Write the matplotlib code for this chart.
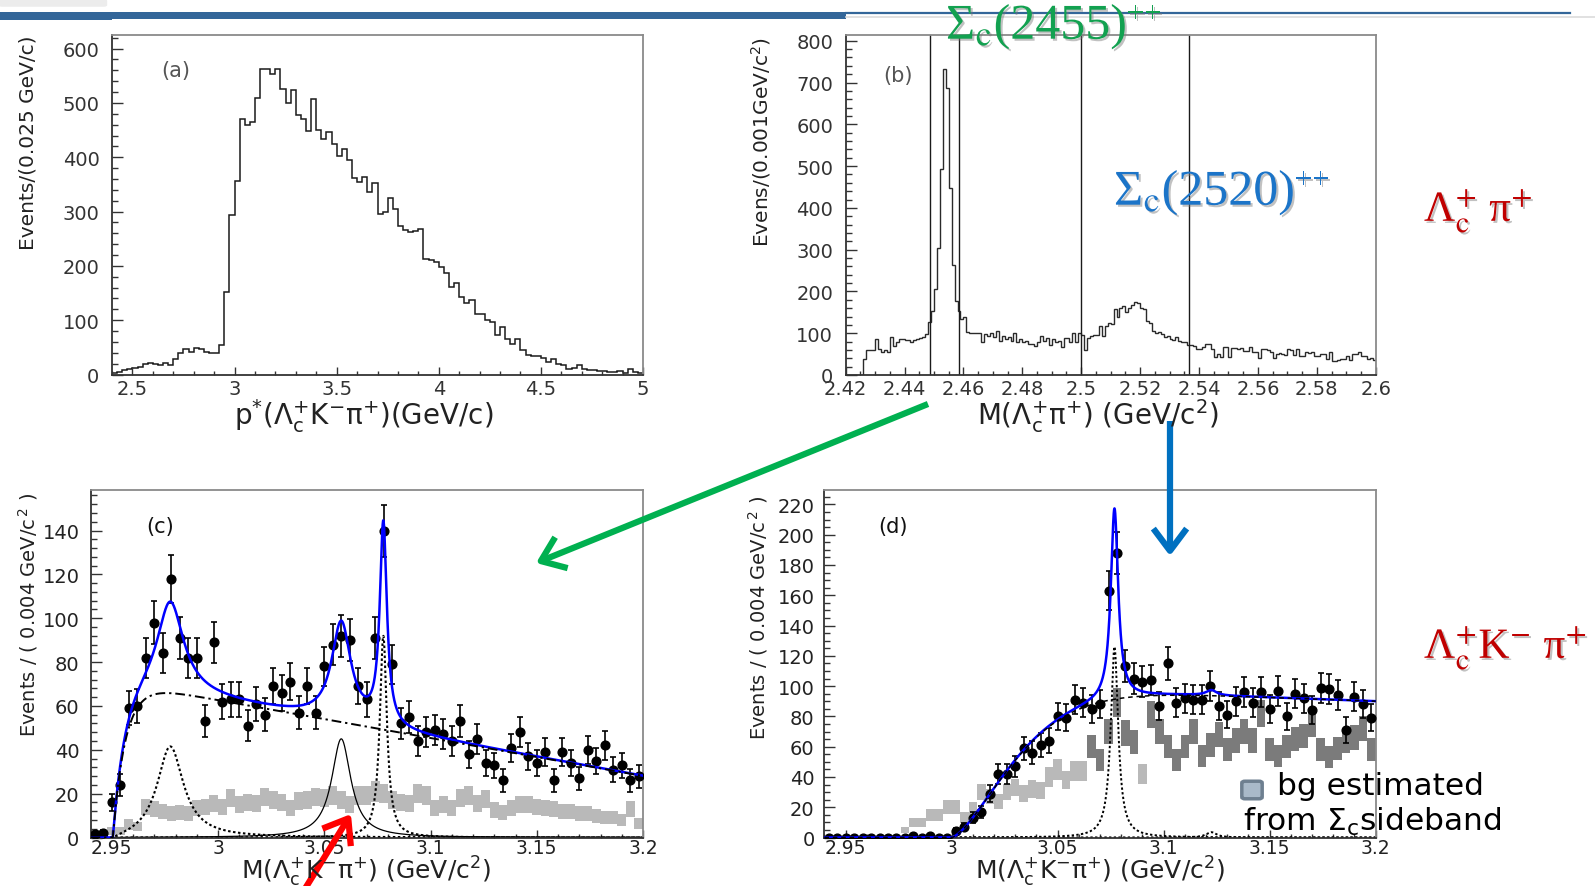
import numpy as np
import matplotlib
matplotlib.use("Agg")
import matplotlib.pyplot as plt
from matplotlib.patches import FancyArrowPatch, Rectangle, FancyBboxPatch, ArrowStyle
from matplotlib.lines import Line2D
from matplotlib.ticker import MultipleLocator, FuncFormatter
import matplotlib.patheffects as pe

# ---------------------------------------------------------------- data
# (a) p* spectrum of Lambda_c+ K- pi+, 0.025 GeV/c bins starting at 2.4
a_lo, a_width = 2.4, 0.025
a_counts = [2, 5, 8, 10, 12, 14, 20, 22, 20, 17,
            22, 17, 28, 40, 47, 42, 49, 47, 41, 40,
            40, 55, 152, 293, 357, 471, 460, 465, 510, 563,
            563, 553, 563, 525, 500, 523, 478, 470, 448, 507,
            451, 434, 446, 424, 403, 415, 395, 362, 355, 363,
            336, 352, 296, 299, 325, 304, 274, 266, 262, 264,
            268, 213, 210, 207, 198, 186, 161, 169, 143, 132,
            138, 112, 112, 100, 97, 72, 88, 66, 57, 66,
            45, 36, 34, 34, 31, 23, 28, 20, 17, 11,
            12, 17, 11, 8, 8, 6, 6, 5, 5, 6,
            3, 11, 5, 3]

# (b) M(Lambda_c+ pi+), 1 MeV bins starting at 2.42
b_lo, b_width = 2.42, 0.001
b_counts = [0, 0, 0, 0, 0, 0, 38, 61, 61, 60,
            86, 62, 55, 60, 56, 90, 70, 80, 86, 86,
            84, 84, 78, 84, 86, 88, 90, 98, 126, 154,
            206, 305, 494, 732, 688, 448, 263, 178, 154, 134,
            138, 102, 100, 100, 100, 100, 78, 98, 94, 100,
            90, 106, 82, 94, 86, 90, 82, 100, 78, 86,
            78, 82, 74, 74, 70, 78, 94, 82, 88, 72,
            86, 78, 82, 68, 88, 88, 80, 100, 78, 100,
            96, 61, 88, 93, 96, 96, 118, 94, 118, 124,
            122, 158, 140, 160, 165, 150, 160, 168, 175, 172,
            160, 158, 130, 125, 106, 100, 104, 98, 92, 94,
            86, 84, 90, 82, 80, 78, 72, 72, 70, 62,
            62, 68, 74, 74, 62, 42, 50, 44, 66, 66,
            42, 64, 64, 62, 64, 58, 58, 68, 54, 54,
            40, 62, 62, 60, 56, 40, 50, 52, 50, 48,
            62, 60, 48, 62, 46, 46, 54, 52, 54, 46,
            46, 50, 50, 38, 56, 34, 34, 36, 38, 38,
            46, 36, 50, 50, 54, 46, 46, 38, 40, 36]
# Sigma_c signal / sideband boundaries
b_cuts = [2.4485, 2.4585, 2.500, 2.5365]

# (c), (d) M(Lambda_c+ K- pi+), 4 MeV bins starting at 2.94
m_lo, m_width = 2.94, 0.004
c_counts = [1.5, 2, 16, 24, 59, 60, 82, 98, 84, 118,
            91, 82, 82, 53, 89, 62, 63, 63, 51, 61,
            56, 69, 66, 71, 57, 69, 57, 78, 88, 92,
            90, 69, 63, 91, 140, 79, 52, 55, 44, 48,
            49, 47, 44, 53, 38, 45, 34, 33, 26, 41,
            48, 37, 34, 39, 26, 39, 34, 27, 40, 35,
            42, 31, 33, 26, 28]
c_side = [2, 2, 3, 3, 6, 5, 14, 13, 12, 11,
          11.5, 11, 13.5, 14, 15.5, 14, 18, 15, 16, 15.5,
          18.5, 17, 16, 13.5, 16.5, 17, 18.5, 18, 19, 17,
          15, 19, 19, 21, 20, 17, 16, 15.5, 20, 19,
          13.5, 15, 13.5, 18, 19, 15.5, 17.5, 12.5, 11.5, 13.5,
          15, 15, 14, 13.5, 13, 12, 12, 11, 11, 10,
          9, 9, 8, 13, 6.5]

d_counts = [0, 0, 0, 0, 0, 0, 0, 0, 0, 0,
            1, 0, 1, 0, 0, 4, 7, 13, 17, 29,
            42, 42, 47, 59, 56, 61, 64, 80, 79, 91,
            89, 85, 88, 163, 188, 113, 105, 103, 104, 87,
            115, 89, 92, 91, 91, 100, 87, 81, 90, 96,
            89, 96, 85, 97, 80, 95, 92, 84, 99, 98,
            94, 71, 93, 88, 79]
d_side = [0, 0, 0, 0, 0, 0, 0, 0, 0, 5,
          10, 10, 15, 15, 20, 20, 13, 19, 30, 27,
          24, 30, 33, 29, 32, 31, 40, 45, 38, 44,
          44, 60, 51, 70, 89, 69, 63, 42, 81, 70,
          60, 51, 60, 70, 54, 61, 68, 58, 64, 70,
          64, 82, 58, 54, 60, 65, 67, 75, 58, 53,
          59, 64, 66, 72, 58]
# sideband bins drawn in the darker shade
d_side_dark = [i for i in range(31, 65) if i != 37]

# fit model parameters for (c): threshold background + three resonances
c_thr, c_rise = 2.9505, 0.006
c_bg_ref, c_bg_at, c_bg_slope = 2.975, 67.0, -173.0
c_mass = [2.9775, 3.0580, 3.0778]
c_gamma = [0.015, 0.011, 0.004]
c_height = [42.0, 45.0, 92.0]

# fit model parameters for (d): threshold background + two resonances
d_thr, d_tau, d_pow = 3.000, 0.037, 1.5
d_bg_a0, d_bg_a1 = 100.0, -50.0
d_mass = [3.0768, 3.1225]
d_gamma = [0.0042, 0.006]
d_height = [126.0, 3.5]

# ---------------------------------------------------------------- layout
W, H = 1595, 887


def frect(l, t, r, b):
    return [l / W, 1 - b / H, (r - l) / W, (b - t) / H]


def fpt(x, y):
    return (x / W, 1 - y / H)


plt.rcParams['font.family'] = ['DejaVu Sans']
plt.rcParams['mathtext.fontset'] = 'dejavusans'

fig = plt.figure(figsize=(W / 100, H / 100), dpi=100)
fig.patch.set_facecolor('white')

gfmt = FuncFormatter(lambda v, p: '%g' % round(v, 4))


def style(ax, xmaj, xmin, ymaj, ymin, ypad, xpad, tcol, xsize=14):
    ax.xaxis.set_major_locator(MultipleLocator(xmaj))
    ax.xaxis.set_minor_locator(MultipleLocator(xmin))
    ax.yaxis.set_major_locator(MultipleLocator(ymaj))
    ax.yaxis.set_minor_locator(MultipleLocator(ymin))
    ax.xaxis.set_major_formatter(gfmt)
    ax.yaxis.set_major_formatter(gfmt)
    ax.tick_params(which='both', direction='in', top=False, right=False,
                   colors='#333333', labelcolor=tcol, labelsize=14, width=1.0)
    ax.tick_params(axis='x', labelsize=xsize)
    ax.tick_params(axis='y', which='major', length=8, pad=ypad)
    ax.tick_params(axis='y', which='minor', length=4)
    ax.tick_params(axis='x', which='major', length=6, pad=xpad)
    ax.tick_params(axis='x', which='minor', length=3)
    for s in ('left', 'bottom'):
        ax.spines[s].set_color('#333333')
        ax.spines[s].set_linewidth(1.3)
    for s in ('top', 'right'):
        ax.spines[s].set_color('#8a8a8a')
        ax.spines[s].set_linewidth(1.3)


def bw(x, m, g, h):
    return h * (g / 2) ** 2 / ((x - m) ** 2 + (g / 2) ** 2)


# ---------------------------------------------------------------- (a)
ax_a = fig.add_axes(frect(112, 35.5, 643, 375.5))
edges_a = a_lo + a_width * np.arange(len(a_counts) + 1)
ax_a.stairs(a_counts, edges_a, baseline=0, color='#1a1a1a', lw=1.1)
ax_a.set_xlim(2.4, 5.0)
ax_a.set_ylim(0, 626)
style(ax_a, 0.5, 0.1, 100, 20, 9, 3, '#333333')
fig.text(*fpt(176, 71), '(a)', fontsize=15, color='#555555', ha='center', va='center')
fig.text(*fpt(28.5, 36), 'Events/(0.025 GeV/c)', rotation=90, ha='center', va='top',
         fontsize=14.5, color='#222222')
fig.text(*fpt(364, 416), r'p$^{*}$(Λ$_{\rm c}^{+}$K$^{-}$π$^{+}$)(GeV/c)',
         ha='center', va='center', fontsize=20, color='#222222')

# ---------------------------------------------------------------- (b)
ax_b = fig.add_axes(frect(845.6, 35.5, 1375.7, 376))
edges_b = b_lo + b_width * np.arange(len(b_counts) + 1)
ax_b.stairs(b_counts, edges_b, baseline=0, color='#2a2a2a', lw=1.0)
for xc in b_cuts:
    ax_b.axvline(xc, color='#1a1a1a', lw=1.0)
ax_b.set_xlim(2.42, 2.6)
ax_b.set_ylim(0, 815)
style(ax_b, 0.02, 0.005, 100, 20, 9, 3, '#333333')
fig.text(*fpt(898, 76), '(b)', fontsize=15, color='#555555', ha='center', va='center')
fig.text(*fpt(761, 37), r'Evens/(0.001GeV/c$^{2}$)', rotation=90, ha='center', va='top',
         fontsize=14.5, color='#222222')
fig.text(*fpt(1098, 416), r'M(Λ$_{\rm c}^{+}$π$^{+}$) (GeV/c$^{2}$)',
         ha='center', va='center', fontsize=20, color='#222222')

# ---------------------------------------------------------------- (c), (d)
centers = m_lo + m_width * (np.arange(len(c_counts)) + 0.5)
xf = np.linspace(2.94, 3.2, 3000)


def side_boxes(ax, vals, idx, color):
    v = np.array(vals, dtype=float)
    sel = np.array([i for i in idx if v[i] > 0])
    err = np.sqrt(v[sel])
    ax.bar(centers[sel], 2 * err, bottom=v[sel] - err, width=m_width,
           color=color, linewidth=0, zorder=1)


def points(ax, vals):
    v = np.array(vals, dtype=float)
    ax.errorbar(centers, v, yerr=np.sqrt(v), fmt='o', color='black', ms=6.3,
                elinewidth=1.2, capsize=2.5, capthick=1.2, zorder=4)


# (c)
ax_c = fig.add_axes(frect(90.5, 491, 643, 838.5))
side_boxes(ax_c, c_side, range(len(c_side)), '#b9b9b9')
s_c = np.where(xf > c_thr, 1 - np.exp(-(xf - c_thr) / c_rise), 0.0)
bg_c = (c_bg_at + c_bg_slope * (xf - c_bg_ref)) * s_c
pk_c = [bw(xf, m, g, h) * s_c for m, g, h in zip(c_mass, c_gamma, c_height)]
ax_c.plot(xf, pk_c[0], color='black', ls=(0, (1.2, 1.2)), lw=1.5, zorder=2)
ax_c.plot(xf, pk_c[1], color='black', ls='-', lw=0.9, zorder=2)
ax_c.plot(xf, pk_c[2], color='black', ls=(0, (1.2, 1.2)), lw=1.5, zorder=2)
points(ax_c, c_counts)
ax_c.plot(xf, bg_c + sum(pk_c), color='#0000ff', lw=1.8, zorder=5)
ax_c.plot(xf, bg_c, color='black', ls=(0, (5, 2, 1.2, 2)), lw=1.4, zorder=6)
ax_c.set_xlim(2.94, 3.2)
ax_c.set_ylim(0, 158.5)
style(ax_c, 0.05, 0.01, 20, 4, 8, 0.3, '#222222', xsize=13.5)
fig.text(*fpt(160, 527), '(c)', fontsize=15, color='#111111', ha='center', va='center')
fig.text(*fpt(28.5, 493), r'Events / ( 0.004 GeV/c$^{\,2}$ )', rotation=90, ha='center',
         va='top', fontsize=14, color='#222222')
fig.text(*fpt(366, 872), r'M(Λ$_{\rm c}^{+}$K$^{-}$π$^{+}$) (GeV/c$^{2}$)',
         ha='center', va='center', fontsize=18, color='#222222')

# (d)
ax_d = fig.add_axes(frect(824.4, 491, 1375.7, 838.5))
light_idx = [i for i in range(len(d_side)) if i not in d_side_dark]
side_boxes(ax_d, d_side, light_idx, '#b9b9b9')
side_boxes(ax_d, d_side, d_side_dark, '#7b7b7b')
u = np.clip(xf - d_thr, 0, None)
bg_d = (d_bg_a0 + d_bg_a1 * u) * (1 - np.exp(-(u / d_tau) ** d_pow))
pk_d = [bw(xf, m, g, h) for m, g, h in zip(d_mass, d_gamma, d_height)]
for p in pk_d:
    ax_d.plot(xf, p, color='black', ls=(0, (1.2, 1.2)), lw=1.4, zorder=2)
points(ax_d, d_counts)
ax_d.plot(xf, bg_d + sum(pk_d), color='#0000ff', lw=1.8, zorder=5)
ax_d.plot(xf, bg_d, color='black', ls=(0, (3, 2.5)), lw=1.1, zorder=6)
ax_d.set_xlim(2.94, 3.2)
ax_d.set_ylim(0, 229.5)
style(ax_d, 0.05, 0.01, 20, 5, 7, 0.3, '#222222', xsize=13.5)
fig.text(*fpt(893, 527), '(d)', fontsize=15, color='#111111', ha='center', va='center')
fig.text(*fpt(758, 496), r'Events / ( 0.004 GeV/c$^{\,2}$ )', rotation=90, ha='center',
         va='top', fontsize=14, color='#222222')
fig.text(*fpt(1100, 872), r'M(Λ$_{\rm c}^{+}$K$^{-}$π$^{+}$) (GeV/c$^{2}$)',
         ha='center', va='center', fontsize=18, color='#222222')

# ---------------------------------------------------------------- slide decorations
fig.add_artist(FancyBboxPatch(fpt(2, 6), 102 / W, 4 / H, transform=fig.transFigure,
                              boxstyle='round,pad=0.002', facecolor='#ececec',
                              edgecolor='none', zorder=0))
fig.add_artist(Rectangle(fpt(0, 20.5), 112 / W, 7.5 / H, transform=fig.transFigure,
                         color='#336699', lw=0, zorder=0))
fig.add_artist(Rectangle(fpt(110, 20), 736 / W, 7.5 / H, transform=fig.transFigure,
                         color='#336699', lw=0, zorder=0))
fig.add_artist(Line2D([846 / W, 1570 / W], [1 - 13.7 / H] * 2, transform=fig.transFigure,
                      color='#336699', lw=1.6))
fig.add_artist(Line2D([846 / W, 1595 / W], [1 - 18.3 / H] * 2, transform=fig.transFigure,
                      color='#dcdcdc', lw=1.2))

shadow = [pe.withSimplePatchShadow(offset=(1.5, -1.5), shadow_rgbFace='#777777', alpha=0.45)]
serif = dict(family=['Liberation Serif', 'DejaVu Serif'], math_fontfamily='stix',
             va='baseline', ha='left', path_effects=shadow)
renderer = fig.canvas.get_renderer()


def sigma_label(x, y, body, color):
    t = fig.text(*fpt(x, y), r'Σ$_{\rm c}$' + body, fontsize=36, color=color, **serif)
    bb = t.get_window_extent(renderer=renderer)
    fig.text(bb.x1 / W, 1 - (y - 17) / H, '++', fontsize=22, color=color, **serif)


sigma_label(946, 40, '(2455)', '#12a150')
sigma_label(1114, 206, '(2520)', '#1b74c8')
fig.text(*fpt(1424, 222), r'Λ$_{\rm c}^{+}$ π$^{+}$', fontsize=31, color='#c00000', **serif)
fig.text(*fpt(1424, 659), r'Λ$_{\rm c}^{+}$K$^{-}$ π$^{+}$', fontsize=31, color='#c00000', **serif)

fig.add_artist(FancyBboxPatch(fpt(1245, 798), 14 / W, 14 / H, transform=fig.transFigure,
                              boxstyle='round,pad=0.002', facecolor='#a9b9c9',
                              edgecolor='#6e7f90', lw=2.5))
fig.text(*fpt(1277, 795), 'bg estimated', fontsize=22.5, color='black', va='baseline')
fig.text(*fpt(1243, 831), r'from Σ$_{\rm c}$sideband', fontsize=22.5, color='black',
         va='baseline')


def arrow(p0, p1, color):
    fig.add_artist(FancyArrowPatch(fpt(*p0), fpt(*p1), transform=fig.transFigure,
                                   arrowstyle=ArrowStyle('->', head_length=0.8, head_width=0.6),
                                   mutation_scale=20, lw=4.5, color=color,
                                   shrinkA=0, shrinkB=0, capstyle='butt'))


arrow((928, 405), (536, 564), '#00b050')
arrow((1170, 422), (1170, 557), '#0070c0')
arrow((303, 893), (351, 815), '#ff0000')

fig.savefig('out.png', dpi=100, facecolor='white')
